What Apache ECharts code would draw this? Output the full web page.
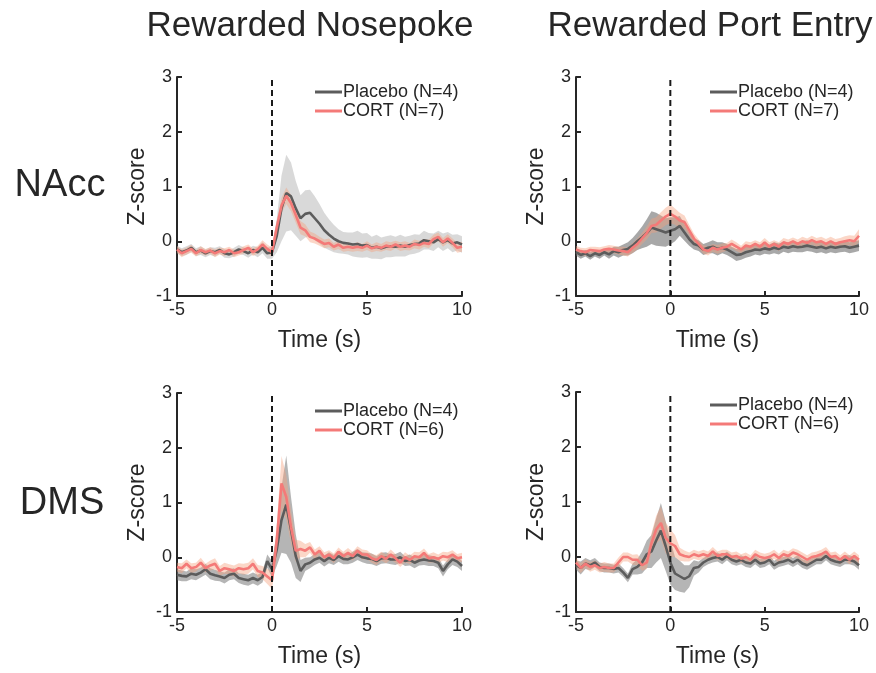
<!DOCTYPE html>
<html>
<head>
<meta charset="utf-8">
<title>Photometry traces</title>
<script src="https://cdn.jsdelivr.net/npm/echarts@6/dist/echarts.min.js"></script>
<style>
  html, body { margin: 0; padding: 0; background: #fff; }
  #chart { width: 876px; height: 673px; }
</style>
</head>
<body>
<div id="chart"></div>
<script>
const time = [
  -5, -4.75, -4.5, -4.25, -4, -3.75, -3.5, -3.25, -3, -2.75, -2.5, -2.25, -2, -1.75, -1.5, -1.25,
  -1, -0.75, -0.5, -0.25, 0, 0.25, 0.5, 0.75, 1, 1.25, 1.5, 1.75, 2, 2.25, 2.5, 2.75,
  3, 3.25, 3.5, 3.75, 4, 4.25, 4.5, 4.75, 5, 5.25, 5.5, 5.75, 6, 6.25, 6.5, 6.75,
  7, 7.25, 7.5, 7.75, 8, 8.25, 8.5, 8.75, 9, 9.25, 9.5, 9.75, 10
];
const xTicks = [-5, 0, 5, 10];
const yTicks = [-1, 0, 1, 2, 3];
const cueLine = [[0, -1], [0, 3]];

const columnTitles = ['Rewarded Nosepoke', 'Rewarded Port Entry'];
const rowTitles = ['NAcc', 'DMS'];
const placeboNames = ['Placebo (N=4)', 'Placebo (N=4)'];
const cortNames = ['CORT (N=7)', 'CORT (N=6)'];

// NAcc, nosepoke
const naccPokePlacebo = [
  -0.15, -0.2, -0.17, -0.12, -0.2, -0.17, -0.22, -0.18, -0.2, -0.16, -0.22, -0.24, -0.2, -0.15, -0.18, -0.22,
  -0.16, -0.2, -0.12, -0.22, -0.2, 0.1, 0.6, 0.88, 0.82, 0.6, 0.42, 0.5, 0.52, 0.42, 0.32, 0.2,
  0.12, 0.05, 0.0, -0.03, -0.04, -0.06, -0.05, -0.08, -0.07, -0.12, -0.1, -0.13, -0.1, -0.09, -0.1, -0.08,
  -0.1, -0.07, -0.05, -0.04, 0.02, 0.0, -0.02, 0.04, -0.02, 0.02, -0.04, -0.02, -0.06
];
const naccPokePlaceboSem = [
  0.07, 0.07, 0.08, 0.07, 0.07, 0.08, 0.07, 0.07, 0.08, 0.07, 0.08, 0.07, 0.08, 0.08, 0.07, 0.08,
  0.08, 0.09, 0.1, 0.1, 0.12, 0.3, 0.6, 0.7, 0.62, 0.5, 0.42, 0.43, 0.42, 0.4, 0.36, 0.32,
  0.28, 0.25, 0.22, 0.2, 0.2, 0.22, 0.24, 0.22, 0.22, 0.2, 0.22, 0.2, 0.19, 0.2, 0.18, 0.2,
  0.18, 0.17, 0.18, 0.16, 0.17, 0.15, 0.16, 0.15, 0.16, 0.15, 0.16, 0.15, 0.15
];
const naccPokeCort = [
  -0.15, -0.22, -0.18, -0.14, -0.22, -0.16, -0.2, -0.17, -0.22, -0.18, -0.2, -0.16, -0.22, -0.2, -0.16, -0.12,
  -0.2, -0.15, -0.06, -0.14, -0.2, 0.25, 0.65, 0.83, 0.7, 0.48, 0.25, 0.2, 0.08, 0.05, 0.0, -0.05,
  -0.03, -0.1, -0.06, -0.12, -0.1, -0.12, -0.1, -0.12, -0.08, -0.13, -0.1, -0.12, -0.08, -0.1, -0.06, -0.1,
  -0.08, -0.1, -0.05, -0.07, -0.03, -0.05, 0.04, 0.08, -0.02, 0.05, -0.03, -0.12, -0.1
];
const naccPokeCortSem = [
  0.06, 0.07, 0.06, 0.07, 0.06, 0.07, 0.06, 0.06, 0.07, 0.06, 0.07, 0.06, 0.07, 0.06, 0.07, 0.06,
  0.07, 0.07, 0.08, 0.08, 0.08, 0.12, 0.14, 0.15, 0.15, 0.14, 0.12, 0.11, 0.1, 0.09, 0.08, 0.08,
  0.08, 0.07, 0.08, 0.07, 0.08, 0.07, 0.08, 0.07, 0.08, 0.07, 0.08, 0.07, 0.08, 0.08, 0.07, 0.08,
  0.08, 0.07, 0.08, 0.08, 0.07, 0.08, 0.08, 0.08, 0.08, 0.08, 0.08, 0.09, 0.09
];

// NAcc, port entry
const naccPortPlacebo = [
  -0.2, -0.25, -0.22, -0.27, -0.22, -0.25, -0.2, -0.24, -0.18, -0.2, -0.16, -0.14, -0.08, 0.0, 0.07, 0.15,
  0.25, 0.22, 0.19, 0.16, 0.19, 0.22, 0.28, 0.16, 0.04, -0.05, -0.08, -0.15, -0.12, -0.1, -0.14, -0.12,
  -0.15, -0.2, -0.25, -0.24, -0.2, -0.18, -0.15, -0.16, -0.13, -0.15, -0.12, -0.14, -0.1, -0.12, -0.09, -0.11,
  -0.1, -0.08, -0.1, -0.12, -0.1, -0.13, -0.1, -0.12, -0.1, -0.09, -0.12, -0.1, -0.08
];
const naccPortPlaceboSem = [
  0.06, 0.07, 0.06, 0.07, 0.06, 0.07, 0.06, 0.08, 0.08, 0.1, 0.1, 0.12, 0.14, 0.16, 0.2, 0.25,
  0.3, 0.3, 0.28, 0.26, 0.25, 0.22, 0.18, 0.15, 0.12, 0.1, 0.1, 0.1, 0.1, 0.12, 0.12, 0.1,
  0.1, 0.1, 0.11, 0.1, 0.1, 0.1, 0.09, 0.1, 0.1, 0.09, 0.1, 0.1, 0.09, 0.1, 0.1, 0.09,
  0.1, 0.1, 0.09, 0.1, 0.1, 0.1, 0.1, 0.1, 0.1, 0.1, 0.1, 0.1, 0.1
];
const naccPortCort = [
  -0.15, -0.18, -0.2, -0.16, -0.17, -0.18, -0.15, -0.14, -0.15, -0.17, -0.18, -0.2, -0.12, -0.05, 0.05, 0.15,
  0.28, 0.3, 0.38, 0.45, 0.5, 0.45, 0.38, 0.35, 0.2, 0.05, -0.05, -0.15, -0.18, -0.12, -0.15, -0.12,
  -0.1, -0.05, -0.1, -0.15, -0.08, -0.1, -0.05, -0.1, -0.02, -0.1, -0.05, -0.1, -0.02, -0.05, 0.0, -0.05,
  0.0, -0.03, 0.02, -0.02, 0.0, -0.05, 0.0, -0.05, -0.02, 0.0, 0.02, 0.0, 0.1
];
const naccPortCortSem = [
  0.07, 0.06, 0.07, 0.06, 0.07, 0.07, 0.06, 0.07, 0.07, 0.07, 0.08, 0.08, 0.09, 0.1, 0.1, 0.12,
  0.13, 0.14, 0.15, 0.16, 0.17, 0.15, 0.14, 0.12, 0.1, 0.09, 0.08, 0.08, 0.08, 0.07, 0.08, 0.08,
  0.07, 0.08, 0.08, 0.07, 0.08, 0.08, 0.07, 0.08, 0.08, 0.08, 0.07, 0.08, 0.08, 0.08, 0.07, 0.08,
  0.08, 0.08, 0.08, 0.08, 0.08, 0.09, 0.08, 0.09, 0.08, 0.09, 0.09, 0.1, 0.12
];

// DMS, nosepoke
const dmsPokePlacebo = [
  -0.32, -0.34, -0.35, -0.3, -0.32, -0.28, -0.22, -0.3, -0.33, -0.35, -0.38, -0.32, -0.3, -0.38, -0.4, -0.42,
  -0.38, -0.42, -0.36, -0.07, -0.22, 0.14, 0.68, 0.96, 0.5, 0.02, -0.25, -0.13, -0.1, -0.04, -0.01, -0.07,
  -0.01, -0.05, 0.02, -0.03, -0.04, 0.0, 0.05, 0.0, -0.02, -0.03, -0.07, -0.02, -0.01, -0.04, -0.04, 0.0,
  -0.07, -0.05, -0.1, -0.06, -0.04, -0.06, -0.07, -0.1, -0.25, -0.13, -0.04, -0.08, -0.16
];
const dmsPokePlaceboSem = [
  0.1, 0.1, 0.09, 0.1, 0.1, 0.09, 0.1, 0.1, 0.1, 0.09, 0.1, 0.1, 0.1, 0.09, 0.1, 0.1,
  0.1, 0.1, 0.1, 0.12, 0.15, 0.3, 0.6, 0.9, 0.6, 0.4, 0.2, 0.12, 0.1, 0.1, 0.09, 0.1,
  0.1, 0.09, 0.1, 0.1, 0.09, 0.1, 0.1, 0.09, 0.1, 0.1, 0.09, 0.1, 0.1, 0.09, 0.1, 0.1,
  0.09, 0.1, 0.1, 0.09, 0.1, 0.1, 0.09, 0.1, 0.1, 0.09, 0.1, 0.1, 0.09
];
const dmsPokeCort = [
  -0.18, -0.2, -0.12, -0.2, -0.18, -0.1, -0.2, -0.15, -0.12, -0.25, -0.2, -0.22, -0.25, -0.2, -0.22, -0.2,
  -0.12, -0.25, -0.28, -0.35, -0.42, 0.3, 1.35, 1.1, 0.55, 0.12, 0.15, 0.12, 0.18, 0.05, 0.12, 0.0,
  0.05, -0.02, 0.1, 0.02, 0.08, 0.02, 0.12, 0.05, 0.05, -0.02, -0.05, 0.02, -0.03, 0.05, -0.02, -0.1,
  0.0, -0.05, 0.02, 0.0, 0.08, -0.02, 0.0, -0.03, 0.02, 0.0, 0.05, -0.02, 0.0
];
const dmsPokeCortSem = [
  0.08, 0.09, 0.08, 0.09, 0.08, 0.09, 0.08, 0.09, 0.1, 0.09, 0.1, 0.09, 0.1, 0.09, 0.1, 0.1,
  0.1, 0.11, 0.12, 0.14, 0.16, 0.3, 0.5, 0.4, 0.3, 0.2, 0.15, 0.12, 0.1, 0.09, 0.08, 0.09,
  0.08, 0.09, 0.08, 0.08, 0.09, 0.08, 0.08, 0.09, 0.08, 0.08, 0.09, 0.08, 0.08, 0.09, 0.08, 0.08,
  0.09, 0.08, 0.08, 0.09, 0.08, 0.08, 0.09, 0.08, 0.08, 0.09, 0.08, 0.08, 0.08
];

// DMS, port entry
const dmsPortPlacebo = [
  -0.15, -0.2, -0.12, -0.15, -0.1, -0.18, -0.2, -0.2, -0.22, -0.2, -0.28, -0.38, -0.22, -0.18, -0.1, 0.05,
  0.1, 0.3, 0.48, 0.2, -0.1, -0.3, -0.35, -0.4, -0.35, -0.2, -0.18, -0.1, -0.05, -0.02, 0.0, -0.05,
  0.02, -0.05, -0.08, -0.05, -0.1, -0.12, -0.05, -0.12, -0.1, -0.05, -0.15, -0.1, -0.08, -0.05, -0.1, -0.05,
  -0.12, -0.15, -0.1, -0.05, -0.05, 0.02, -0.05, -0.08, -0.1, -0.05, -0.05, -0.08, -0.15
];
const dmsPortPlaceboSem = [
  0.08, 0.12, 0.1, 0.09, 0.08, 0.08, 0.08, 0.08, 0.08, 0.08, 0.08, 0.08, 0.1, 0.14, 0.2, 0.25,
  0.3, 0.4, 0.5, 0.45, 0.4, 0.3, 0.28, 0.25, 0.2, 0.14, 0.1, 0.08, 0.08, 0.08, 0.08, 0.08,
  0.08, 0.08, 0.08, 0.08, 0.08, 0.08, 0.08, 0.08, 0.08, 0.08, 0.08, 0.08, 0.08, 0.08, 0.08, 0.08,
  0.08, 0.08, 0.08, 0.08, 0.08, 0.08, 0.08, 0.08, 0.08, 0.08, 0.08, 0.08, 0.08
];
const dmsPortCort = [
  -0.1, -0.2, -0.12, -0.18, -0.15, -0.2, -0.18, -0.2, -0.2, -0.1, 0.0, 0.0, -0.05, -0.05, -0.15, -0.1,
  0.25, 0.5, 0.62, 0.35, 0.25, 0.2, 0.05, 0.02, 0.0, 0.05, 0.02, 0.05, 0.02, 0.1, 0.02, 0.05,
  0.05, 0.0, 0.02, -0.03, 0.0, -0.05, 0.05, 0.0, -0.02, 0.0, 0.05, -0.02, 0.05, 0.02, 0.08, 0.05,
  0.0, -0.05, 0.0, 0.02, 0.05, 0.1, 0.0, 0.02, -0.05, 0.02, -0.05, 0.02, -0.05
];
const dmsPortCortSem = [
  0.08, 0.09, 0.08, 0.09, 0.08, 0.08, 0.09, 0.08, 0.08, 0.09, 0.08, 0.08, 0.09, 0.1, 0.1, 0.12,
  0.18, 0.25, 0.3, 0.28, 0.25, 0.2, 0.12, 0.1, 0.08, 0.08, 0.08, 0.08, 0.08, 0.08, 0.08, 0.08,
  0.08, 0.08, 0.08, 0.08, 0.08, 0.08, 0.08, 0.08, 0.08, 0.08, 0.08, 0.08, 0.08, 0.08, 0.08, 0.08,
  0.08, 0.08, 0.08, 0.08, 0.08, 0.08, 0.08, 0.08, 0.08, 0.08, 0.08, 0.08, 0.08
];

const FONT = '"Liberation Sans", Arial, Helvetica, sans-serif';
const INK = '#262626';
const PLACEBO_COLOR = '#5c5c5c';
const CORT_COLOR = '#f47a78';
const CORT_BAND = 'rgba(246, 160, 125, 0.42)';

const panels = [
  { grid: { left: 177, top: 77, width: 285, height: 219 }, row: 0,
    placebo: naccPokePlacebo, placeboSem: naccPokePlaceboSem, cort: naccPokeCort, cortSem: naccPokeCortSem,
    placeboBand: 'rgba(170, 170, 170, 0.45)', legend: { left: 315, top: 83 } },
  { grid: { left: 576, top: 77, width: 283, height: 219 }, row: 0,
    placebo: naccPortPlacebo, placeboSem: naccPortPlaceboSem, cort: naccPortCort, cortSem: naccPortCortSem,
    placeboBand: 'rgba(110, 110, 110, 0.6)', legend: { left: 710, top: 83 } },
  { grid: { left: 177, top: 393, width: 285, height: 219 }, row: 1,
    placebo: dmsPokePlacebo, placeboSem: dmsPokePlaceboSem, cort: dmsPokeCort, cortSem: dmsPokeCortSem,
    placeboBand: 'rgba(120, 120, 120, 0.55)', legend: { left: 315, top: 402 } },
  { grid: { left: 576, top: 392, width: 283, height: 220 }, row: 1,
    placebo: dmsPortPlacebo, placeboSem: dmsPortPlaceboSem, cort: dmsPortCort, cortSem: dmsPortCortSem,
    placeboBand: 'rgba(120, 120, 120, 0.55)', legend: { left: 710, top: 396 } }
];

function pairs(values) {
  return time.map((t, i) => [t, values[i]]);
}

function bandSeries(idx, mean, sem, color, z) {
  return {
    type: 'custom',
    xAxisIndex: idx,
    yAxisIndex: idx,
    silent: true,
    z,
    data: [[time[0], mean[0]]],
    renderItem: (params, api) => {
      const upper = time.map((t, i) => api.coord([t, mean[i] + sem[i]]));
      const lower = time.map((t, i) => api.coord([t, mean[i] - sem[i]])).reverse();
      return {
        type: 'polygon',
        shape: { points: upper.concat(lower) },
        style: { fill: color }
      };
    }
  };
}

function lineSeries(idx, name, values, color, z) {
  return {
    name,
    type: 'line',
    xAxisIndex: idx,
    yAxisIndex: idx,
    showSymbol: false,
    symbol: 'none',
    z,
    lineStyle: { color, width: 2.6 },
    itemStyle: { color },
    data: pairs(values)
  };
}

const axisStyle = {
  axisLine: { show: true, onZero: false, lineStyle: { color: INK, width: 2 } },
  axisTick: { show: true, inside: true, length: 5, lineStyle: { color: INK, width: 2 } },
  axisLabel: { color: INK, fontSize: 18, fontFamily: FONT, margin: 5 },
  splitLine: { show: false },
  nameTextStyle: { color: INK, fontSize: 23, fontFamily: FONT }
};

const grids = [];
const xAxes = [];
const yAxes = [];
const series = [];
const legends = [];

panels.forEach((p, idx) => {
  grids.push(p.grid);
  xAxes.push({
    ...axisStyle,
    type: 'value',
    gridIndex: idx,
    min: xTicks[0],
    max: xTicks[xTicks.length - 1],
    interval: xTicks[1] - xTicks[0],
    name: 'Time (s)',
    nameLocation: 'middle',
    nameGap: 33
  });
  yAxes.push({
    ...axisStyle,
    type: 'value',
    gridIndex: idx,
    min: yTicks[0],
    max: yTicks[yTicks.length - 1],
    interval: yTicks[1] - yTicks[0],
    name: 'Z-score',
    nameLocation: 'middle',
    nameGap: 28
  });
  const placeboName = placeboNames[p.row];
  const cortName = cortNames[p.row];
  series.push(bandSeries(idx, p.placebo, p.placeboSem, p.placeboBand, 1));
  series.push(bandSeries(idx, p.cort, p.cortSem, CORT_BAND, 2));
  series.push(lineSeries(idx, placeboName, p.placebo, PLACEBO_COLOR, 3));
  series.push(lineSeries(idx, cortName, p.cort, CORT_COLOR, 4));
  series.push({
    type: 'line',
    xAxisIndex: idx,
    yAxisIndex: idx,
    showSymbol: false,
    symbol: 'none',
    silent: true,
    z: 5,
    lineStyle: { color: '#1a1a1a', width: 2, type: [6, 4] },
    data: cueLine
  });
  legends.push({
    left: p.legend.left,
    top: p.legend.top,
    padding: 0,
    orient: 'vertical',
    itemGap: 1,
    itemWidth: 27,
    itemHeight: 3,
    icon: 'rect',
    selectedMode: false,
    textStyle: { color: INK, fontSize: 18, fontFamily: FONT, padding: [0, 0, 0, -4] },
    data: [placeboName, cortName]
  });
});

const chart = echarts.init(document.getElementById('chart'), null, { renderer: 'canvas' });
chart.setOption({
  animation: false,
  backgroundColor: '#fff',
  grid: grids,
  xAxis: xAxes,
  yAxis: yAxes,
  legend: legends,
  series,
  graphic: [
    { type: 'text', x: 310, y: 26, style: { text: columnTitles[0], fill: INK, font: `35px ${FONT}`, align: 'center', verticalAlign: 'middle' } },
    { type: 'text', x: 710, y: 26, style: { text: columnTitles[1], fill: INK, font: `35px ${FONT}`, align: 'center', verticalAlign: 'middle' } },
    { type: 'text', x: 60, y: 186, style: { text: rowTitles[0], fill: INK, font: `38px ${FONT}`, align: 'center', verticalAlign: 'middle' } },
    { type: 'text', x: 62, y: 504, style: { text: rowTitles[1], fill: INK, font: `38px ${FONT}`, align: 'center', verticalAlign: 'middle' } }
  ]
});
</script>
</body>
</html>
